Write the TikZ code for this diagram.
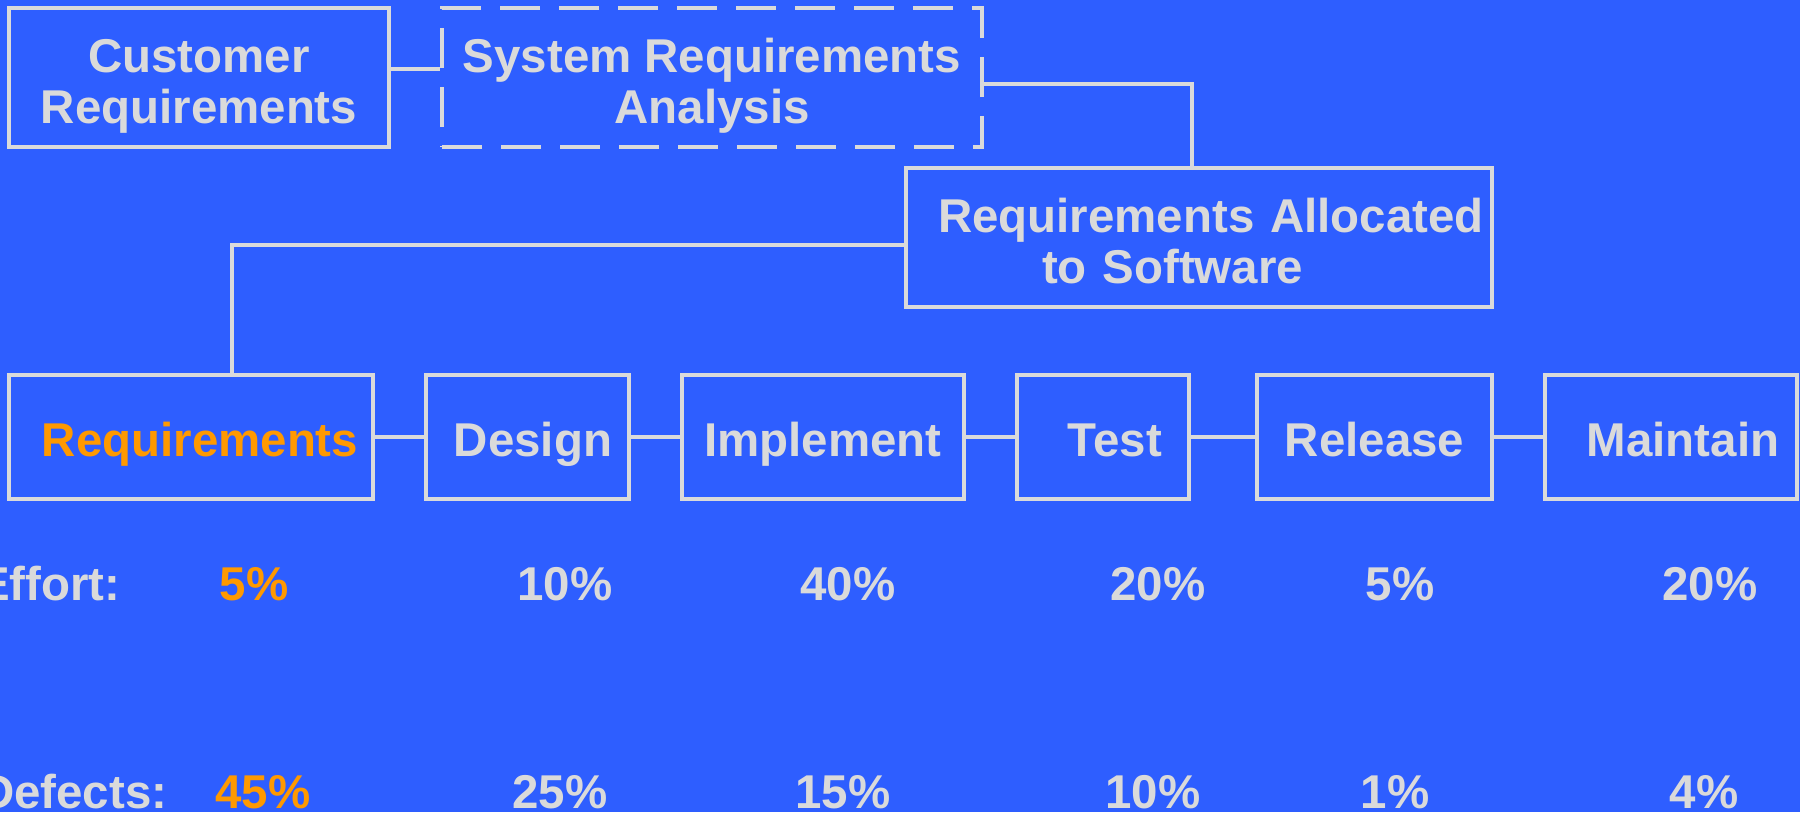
\documentclass[tikz,border=0pt]{standalone}
\usepackage{fontspec}
\setmainfont{Liberation Sans}
\usetikzlibrary{positioning}

\definecolor{slideblue}{RGB}{46,94,255}
\definecolor{linegray}{RGB}{218,218,218}
\definecolor{hilite}{RGB}{255,153,0}

\tikzset{
  boxline/.style={draw=linegray, line width=1.2pt},
  topbox/.style={boxline, minimum height=13.9mm, inner sep=0pt, align=center, text height=27.6pt, text depth=1.2pt},
  allocbox/.style={boxline, minimum height=13.9mm, inner sep=0pt, align=left, text height=11pt, text depth=13.9pt},
  stagebox/.style={boxline, minimum height=12.4mm, inner sep=0pt, text height=12pt, text depth=1.2pt},
  dashbox/.style={dash pattern=on 4mm off 1.9mm},
  link/.style={draw=linegray, line width=1.2pt},
  figure/.style={inner sep=0pt}
}

\begin{document}
\begin{tikzpicture}[x=0.1mm, y=-0.1mm, font=\fontsize{13.5}{14.6}\selectfont\bfseries, text=linegray]
	\path [use as bounding box, fill=slideblue] (0,0) rectangle (1800,812);
	\clip (0,0) rectangle (1800,812);

	% upper boxes
	\node [topbox, minimum width=38mm] (cust) at (199,77.5) {Customer\\Requirements};
	\node [topbox, dashbox, minimum width=54mm] (sra) at (712,77.5) {System Requirements\\Analysis};
	\node [allocbox, minimum width=58.6mm, text width=58.6mm] (alloc) at (1199,237.5)
		{\hspace*{3.2mm}Requirements Allocated\\\hspace*{13.6mm}to Software};

	% life cycle stages
	\node [stagebox, minimum width=36.4mm, text=hilite] (req) at (191,437) {\hspace*{1.8mm}Requirements};
	\node [stagebox, minimum width=20.3mm] (design) at (527.5,437) {\hspace*{1.1mm}Design};
	\node [stagebox, minimum width=28.2mm] (impl) at (823,437) {Implement};
	\node [stagebox, minimum width=17.2mm] (test) at (1103,437) {\hspace*{2.4mm}Test};
	\node [stagebox, minimum width=23.5mm] (release) at (1374.5,437) {Release};
	\node [stagebox, minimum width=25.2mm] (maint) at (1671,437) {\hspace*{2.4mm}Maintain};

	% connectors
	\draw [link] ([yshift=0.85mm]cust.east) -- ([yshift=0.85mm]sra.west);
	\draw [link] ([yshift=-0.65mm]sra.east) -| ([xshift=-0.7mm]alloc.north);
	\draw [link] ([yshift=-0.75mm]alloc.west) -| ([xshift=4.1mm]req.north);
	\draw [link] (req) -- (design);
	\draw [link] (design) -- (impl);
	\draw [link] (impl) -- (test);
	\draw [link] (test) -- (release);
	\draw [link] (release) -- (maint);

	% effort and defects
	\node [figure, anchor=base east] (efflabel) at (121,600) {Effort:};
	\node [figure, anchor=base, text=hilite] (eff1) at (254,600) {5\%};
	\foreach \x/\v [count=\i from 2] in {565/10, 848/40, 1158/20, 1400/5, 1710/20}
		\node [figure, anchor=base] (eff\i) at (\x,600) {\v\%};

	\node [figure, anchor=base east] (deflabel) at (168,808) {Defects:};
	\node [figure, anchor=base, text=hilite] (def1) at (263,808) {45\%};
	\foreach \x/\v [count=\i from 2] in {560/25, 843/15, 1153/10, 1395/1, 1704/4}
		\node [figure, anchor=base] (def\i) at (\x,808) {\v\%};
\end{tikzpicture}
\end{document}
